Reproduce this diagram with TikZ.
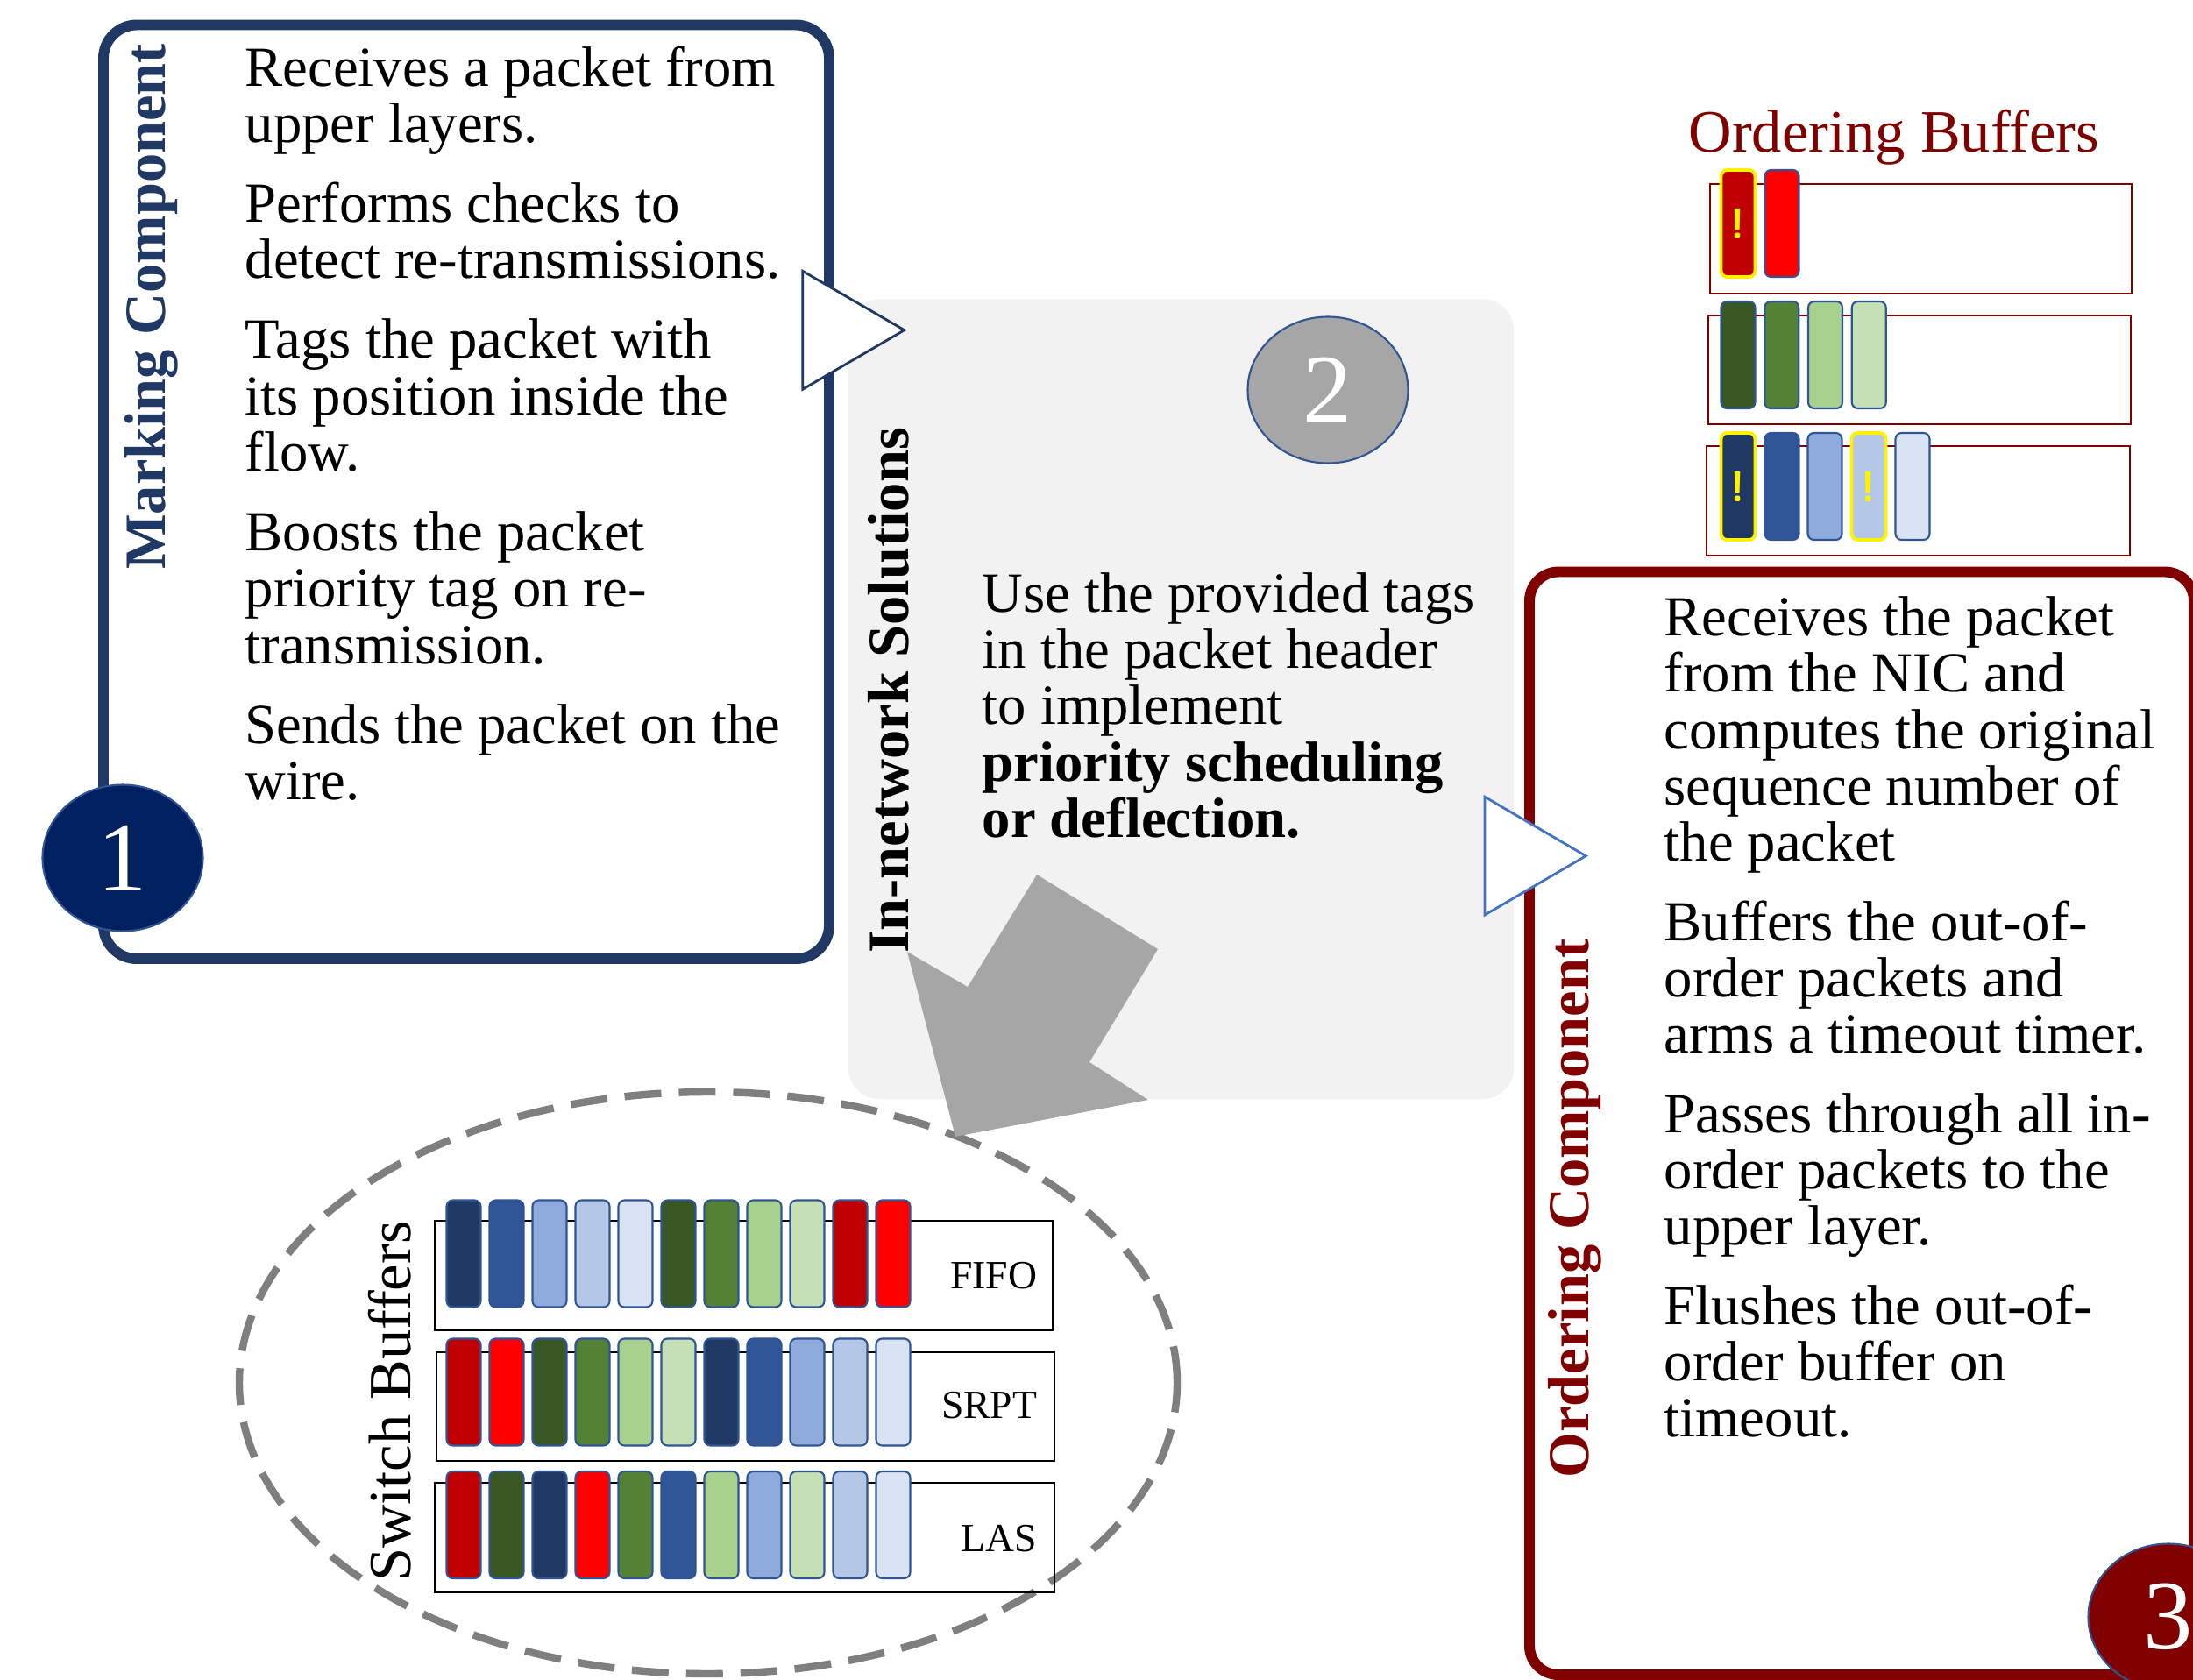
\documentclass[tikz,border=0pt]{standalone}
\usepackage{fontspec}
\setmainfont{Liberation Serif}
\usetikzlibrary{shapes.geometric}
\definecolor{navy}{HTML}{203864}
\definecolor{navyfill}{HTML}{002060}
\definecolor{wine}{HTML}{800000}
\definecolor{accblue}{HTML}{2F5597}
\definecolor{lightblue}{HTML}{4472C4}
\definecolor{softgray}{HTML}{F2F2F2}
\definecolor{midgray}{HTML}{A6A6A6}
\definecolor{dashgray}{HTML}{7F7F7F}
\definecolor{bluea}{HTML}{203864}
\definecolor{blueb}{HTML}{2F5597}
\definecolor{bluec}{HTML}{8FAADC}
\definecolor{blued}{HTML}{B4C7E7}
\definecolor{bluee}{HTML}{DAE3F3}
\definecolor{greena}{HTML}{385723}
\definecolor{greenb}{HTML}{548235}
\definecolor{greenc}{HTML}{A9D18E}
\definecolor{greend}{HTML}{C5E0B4}
\definecolor{reda}{HTML}{C00000}
\definecolor{redb}{HTML}{FF0000}
\newcommand{\bodyfont}{\fontsize{18.4}{18.3}\selectfont}
\begin{document}
\begin{tikzpicture}[
  boxline/.style={line width=3.4pt, rounded corners=0.38cm},
  body/.style={font=\bodyfont, align=left, anchor=north west, inner sep=0pt},
  title/.style={font=\fontsize{18.9}{18.9}\selectfont\bfseries, rotate=90, inner sep=0pt},
  badge/.style={ellipse, minimum width=1.83cm, minimum height=1.67cm, draw=accblue,
    line width=0.6pt, text=white, font=\fontsize{32}{32}\selectfont, inner sep=0pt},
  pkt/.style={draw=accblue, line width=0.6pt, rounded corners=0.07cm,
    minimum width=0.39cm, minimum height=1.22cm, inner sep=0pt},
  flag/.style={pkt, draw=yellow, line width=1.1pt, text=yellow,
    font=\sffamily\bfseries\fontsize{14}{14}\selectfont},
  queue/.style={line width=0.8pt},
  pointer/.style={fill=white, line width=0.8pt, line join=miter},
  lbl/.style={font=\fontsize{13}{13}\selectfont, anchor=east, inner sep=0pt}
]
\useasboundingbox (0,0) rectangle (25.02,-19.17);
\fill[softgray, rounded corners=0.35cm] (9.68,-3.415) rectangle (17.27,-12.54);
\draw[boxline, draw=navy] (1.18,-0.285) rectangle (9.46,-10.94);
\draw[boxline, draw=wine, rounded corners=0.33cm] (17.45,-6.525) rectangle (25.03,-19.11);
\draw[pointer, draw=navy] (9.157,-3.093) -- (10.317,-3.767) -- (9.157,-4.443) -- cycle;
\draw[pointer, draw=lightblue] (16.94,-9.093) -- (18.093,-9.767) -- (16.94,-10.44) -- cycle;
\draw[dashgray, line width=2.4pt, dash pattern=on 0.42cm off 0.2cm]
  (8.08,-15.78) ellipse [x radius=5.35cm, y radius=3.32cm];
\fill[midgray] (11.83,-9.98) -- (13.21,-10.83) -- (12.43,-12.12) -- (13.10,-12.55)
  -- (10.90,-12.97) -- (10.35,-10.86) -- (11.04,-11.26) -- cycle;
\node[badge, fill=navyfill] (one) at (1.40,-9.79) {1};
\node[badge, fill=midgray] (two) at (15.15,-4.45) {2};
\node[badge, fill=wine] (three) at (24.74,-18.45) {3};
\node[title, text=navy] (marktitle) at (1.73,-3.50) {Marking Component};
\node[title] (nettitle) at (10.14,-7.88) {In-network Solutions};
\node[title, text=wine] (ordtitle) at (17.97,-13.79) {Ordering Component};
\node[font=\fontsize{19.5}{19.5}\selectfont, rotate=90, inner sep=0pt] (swtitle)
  at (4.45,-15.99) {Switch Buffers};
\node[font=\fontsize{19.5}{19.5}\selectfont, text=wine, inner sep=0pt] (obtitle)
  at (21.61,-1.565) {Ordering Buffers};
\node[body] (marktext) at (2.79,-0.52) {Receives a packet from\\upper layers.\\[7.6pt]
  Performs checks to\\detect re-transmissions.\\[7.6pt]
  Tags the packet with\\its position inside the\\flow.\\[7.6pt]
  Boosts the packet\\priority tag on re-\\transmission.\\[7.6pt]
  Sends the packet on the\\wire.};
\node[body] (nettext) at (11.20,-6.525) {Use the provided tags\\in the packet header\\
  to implement\\\textbf{priority scheduling}\\\textbf{or deflection.}};
\node[body] (ordtext) at (18.98,-6.80) {Receives the packet\\from the NIC and\\
  computes the original\\sequence number of\\the packet\\[7.4pt]
  Buffers the out-of-\\order packets and\\arms a timeout timer.\\[7.4pt]
  Passes through all in-\\order packets to the\\upper layer.\\[7.4pt]
  Flushes the out-of-\\order buffer on\\timeout.};
\draw[queue] (4.96,-13.93) rectangle (12.01,-15.18);
\draw[queue] (4.98,-15.43) rectangle (12.03,-16.67);
\draw[queue] (4.96,-16.92) rectangle (12.03,-18.17);
\foreach \c [count=\i] in {bluea,blueb,bluec,blued,bluee,greena,greenb,greenc,greend,reda,redb}
  \node[pkt, fill=\c] (fifo\i) at ({5.29+0.49*(\i-1)},-14.305) {};
\foreach \c [count=\i] in {reda,redb,greena,greenb,greenc,greend,bluea,blueb,bluec,blued,bluee}
  \node[pkt, fill=\c] (srpt\i) at ({5.29+0.49*(\i-1)},-15.885) {};
\foreach \c [count=\i] in {reda,greena,bluea,redb,greenb,blueb,greenc,bluec,greend,blued,bluee}
  \node[pkt, fill=\c] (las\i) at ({5.29+0.49*(\i-1)},-17.40) {};
\node[lbl] (fifo) at (11.84,-14.56) {FIFO};
\node[lbl] (srpt) at (11.84,-16.04) {SRPT};
\node[lbl] (las) at (11.84,-17.56) {LAS};
\draw[queue, draw=wine] (19.51,-2.10) rectangle (24.32,-3.35);
\draw[queue, draw=wine] (19.49,-3.60) rectangle (24.31,-4.84);
\draw[queue, draw=wine] (19.47,-5.09) rectangle (24.30,-6.34);
\node[flag, fill=reda] (ob1) at (19.83,-2.55) {!};
\node[pkt, fill=redb] (ob2) at (20.33,-2.55) {};
\foreach \c [count=\i] in {greena,greenb,greenc,greend}
  \node[pkt, fill=\c] (og\i) at ({19.83+0.4975*(\i-1)},-4.05) {};
\node[flag, fill=bluea] (oc1) at (19.83,-5.55) {!};
\node[pkt, fill=blueb] (oc2) at (20.33,-5.55) {};
\node[pkt, fill=bluec] (oc3) at (20.82,-5.55) {};
\node[flag, fill=blued] (oc4) at (21.32,-5.55) {!};
\node[pkt, fill=bluee] (oc5) at (21.82,-5.55) {};
\end{tikzpicture}
\end{document}
